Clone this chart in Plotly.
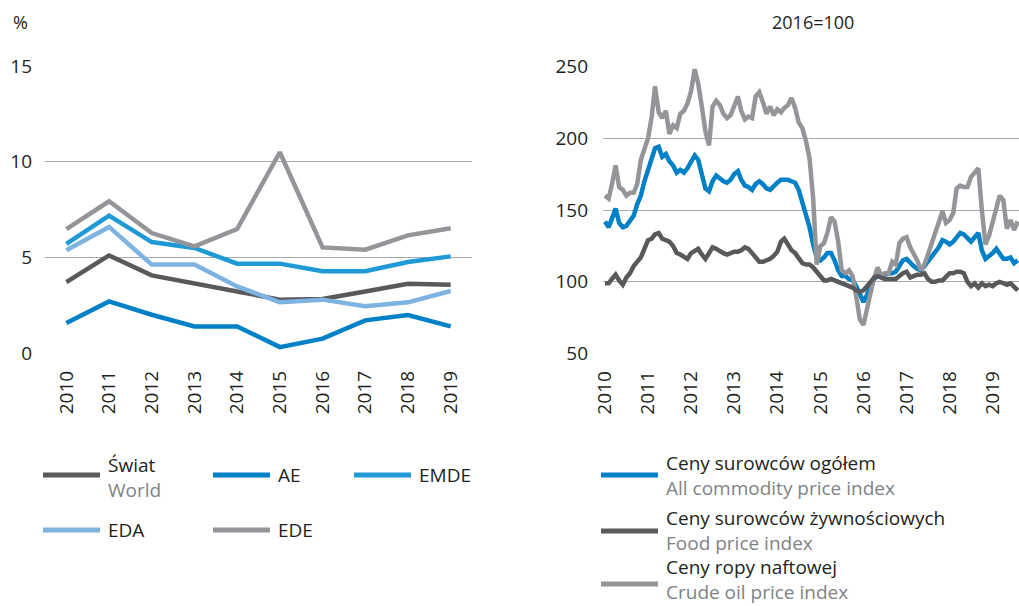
import plotly.graph_objects as go
import pandas as pd

# ---------------- Left chart data (% ) ----------------
years = ['2010', '2011', '2012', '2013', '2014', '2015', '2016', '2017', '2018', '2019']
world = [3.71, 5.10, 4.06, 3.66, 3.22, 2.79, 2.82, 3.22, 3.62, 3.57]
ae = [1.57, 2.70, 2.00, 1.39, 1.39, 0.31, 0.75, 1.71, 1.99, 1.39]
emde = [5.71, 7.18, 5.80, 5.49, 4.67, 4.67, 4.27, 4.27, 4.76, 5.05]
eda = [5.37, 6.59, 4.62, 4.62, 3.48, 2.65, 2.79, 2.44, 2.65, 3.24]
ede = [6.48, 7.93, 6.27, 5.57, 6.48, 10.49, 5.52, 5.40, 6.15, 6.52]

# ---------------- Right chart data (2016=100), monthly from Jan 2010 ----------------
all_commodity = [
    142, 138, 144, 151, 141, 138, 139, 143, 146, 154, 160, 170,
    178, 186, 193, 194, 187, 189, 184, 181, 176, 178, 176, 179,
    184, 188, 185, 176, 165, 163, 170, 174, 172, 170, 169, 171,
    175, 177, 171, 167, 166, 164, 168, 170, 168, 165, 164, 167,
    169, 171, 171, 171, 170, 169, 164, 156, 147, 138, 126, 117,
    115, 117, 120, 120, 115, 108, 104, 104, 102, 101, 97, 92,
    86, 91, 98, 102, 104, 104, 105, 106, 106, 107, 111, 115,
    116, 113, 111, 109, 108, 111, 114, 117, 121, 124, 129, 128,
    126, 128, 131, 134, 133, 130, 128, 131, 134, 122, 116, 118,
    120, 123, 120, 116, 116, 117, 113, 115]
food = [
    99, 99, 102, 105, 101, 98, 103, 106, 111, 114, 117, 123,
    129, 130, 133, 134, 130, 129, 128, 125, 120, 119, 117, 116,
    120, 122, 123, 119, 116, 120, 124, 123, 121, 120, 119, 120,
    121, 121, 122, 124, 123, 120, 117, 114, 114, 115, 116, 118,
    121, 128, 130, 126, 122, 120, 116, 113, 112, 112, 110, 107,
    104, 101, 101, 102, 101, 100, 99, 98, 97, 96, 94, 93,
    94, 97, 100, 103, 104, 103, 102, 102, 102, 102, 104, 106,
    107, 103, 104, 105, 105, 106, 102, 100, 100, 101, 101, 104,
    106, 106, 107, 107, 106, 100, 97, 99, 96, 99, 97, 98,
    97, 99, 100, 99, 98, 99, 97, 94]
crude_oil = [
    160, 158, 168, 181, 166, 164, 160, 162, 162, 168, 185, 192,
    200, 215, 236, 218, 214, 219, 203, 209, 207, 217, 219, 224,
    233, 248, 238, 222, 205, 195, 222, 226, 223, 217, 214, 216,
    223, 229, 219, 213, 215, 214, 229, 232, 225, 217, 222, 216,
    220, 218, 221, 223, 228, 221, 211, 207, 198, 186, 158, 112,
    125, 127, 134, 145, 142, 128, 108, 106, 108, 104, 90, 74,
    70, 80, 92, 103, 110, 104, 106, 106, 114, 112, 127, 130,
    131, 124, 120, 115, 108, 112, 119, 126, 134, 141, 149, 141,
    143, 148, 165, 167, 166, 166, 173, 176, 179, 150, 126, 132,
    141, 150, 160, 157, 137, 143, 136, 142]
year_ticks = ['2010', '2011', '2012', '2013', '2014', '2015', '2016', '2017', '2018', '2019']

months = pd.date_range('2010-01-01', periods=len(crude_oil), freq='MS')

# ---------------- Styles ----------------
C_WORLD = '#58595b'
C_AE = '#0080c6'
C_EMDE = '#1f9ad6'
C_EDA = '#7cb3e1'
C_EDE = '#939598'
C_ALL = '#0080c6'
C_FOOD = '#58595b'
C_OIL = '#939598'
TXT = '#231f20'
TXT2 = '#808285'
GRID = '#a7a9ac'
FONT = 'Open Sans'
FS = 19
LW = 4.5

W, H = 1019, 606


def fx(p):
    return p / W


def fy(p):
    return 1 - p / H


fig = go.Figure()

left_series = [
    ('Świat / World', world, C_WORLD),
    ('AE', ae, C_AE),
    ('EMDE', emde, C_EMDE),
    ('EDA', eda, C_EDA),
    ('EDE', ede, C_EDE),
]
for name, vals, col in left_series:
    fig.add_trace(go.Scatter(x=years, y=vals, name=name, mode='lines',
                             line=dict(color=col, width=LW),
                             xaxis='x', yaxis='y', showlegend=False))

right_series = [
    ('All commodity price index', all_commodity, C_ALL),
    ('Crude oil price index', crude_oil, C_OIL),
    ('Food price index', food, C_FOOD),
]
for name, vals, col in right_series:
    fig.add_trace(go.Scatter(x=months, y=vals, name=name, mode='lines',
                             line=dict(color=col, width=LW),
                             xaxis='x2', yaxis='y2', showlegend=False))

tickfont = dict(family=FONT, size=FS, color=TXT)

fig.update_layout(
    width=W, height=H,
    margin=dict(l=0, r=0, t=0, b=0, autoexpand=False),
    paper_bgcolor='white', plot_bgcolor='white',
    font=dict(family=FONT, size=FS, color=TXT),
    xaxis=dict(domain=[fx(45), fx(472)], type='category', range=[-0.5, 9.5],
               showgrid=False, zeroline=False, showline=False, automargin=False,
               tickangle=-90, tickfont=tickfont, ticks='', ticklabelstandoff=12,
               anchor='y'),
    yaxis=dict(domain=[fy(354), fy(65)], range=[-0.05, 15.05],
               tickvals=[0, 5, 10, 15], showgrid=True, gridcolor=GRID, gridwidth=1.2,
               zeroline=False, showline=False, ticks='', tickfont=tickfont,
               automargin=False, ticklabelstandoff=12, anchor='x'),
    xaxis2=dict(domain=[fx(603), 1.0], type='date',
                range=['2009-12-15', '2019-08-12'],
                tickvals=[pd.Timestamp(y + '-01-01') for y in year_ticks],
                ticktext=year_ticks, automargin=False,
                showgrid=False, zeroline=False, showline=False,
                tickangle=-90, tickfont=tickfont, ticks='', ticklabelstandoff=12,
                anchor='y2'),
    yaxis2=dict(domain=[fy(354.4), fy(65.6)], range=[49.5, 250.5],
                tickvals=[50, 100, 150, 200, 250], showgrid=True, gridcolor=GRID,
                gridwidth=1.2, zeroline=False, showline=False, ticks='',
                automargin=False, tickfont=tickfont, ticklabelstandoff=14,
                anchor='x2'),
)

annotations = [
    dict(text='%', x=fx(20), y=fy(22)),
    dict(text='2016=100', x=fx(813), y=fy(22)),
]
for a in annotations:
    a.update(xref='paper', yref='paper', showarrow=False,
             xanchor='center', yanchor='middle',
             font=dict(family=FONT, size=FS - 1, color=TXT))
fig.update_layout(annotations=annotations)

# ---------------- Legends (drawn manually) ----------------
shapes = []


def legend_item(x0, yline, col, main, sub=None, ytext=None):
    shapes.append(dict(type='line', xref='paper', yref='paper',
                       x0=fx(x0), x1=fx(x0 + 57), y0=fy(yline), y1=fy(yline),
                       line=dict(color=col, width=5)))
    text = main if not sub else f'{main}<br><span style="color:{TXT2}">{sub}</span>'
    fig.add_annotation(text=text, xref='paper', yref='paper', showarrow=False,
                       x=fx(x0 + 64), y=fy(ytext if ytext is not None else yline),
                       xanchor='left', yanchor='middle', align='left',
                       borderpad=0,
                       font=dict(family=FONT, size=FS, color=TXT))


legend_item(43, 475, C_WORLD, 'Świat', 'World', ytext=477)
legend_item(213, 475, C_AE, 'AE')
legend_item(354, 475, C_EMDE, 'EMDE')
legend_item(43, 530, C_EDA, 'EDA')
legend_item(213, 530, C_EDE, 'EDE')

legend_item(601, 475, C_ALL, 'Ceny surowców ogółem', 'All commodity price index',
            ytext=475)
legend_item(601, 531, C_FOOD, 'Ceny surowców żywnościowych', 'Food price index',
            ytext=530)
legend_item(601, 584, C_OIL, 'Ceny ropy naftowej', 'Crude oil price index',
            ytext=579)

fig.update_layout(shapes=shapes)

fig.write_html('out.html',
               config={'displayModeBar': False},
               post_script="document.body.style.margin='0';"
                           "document.body.style.overflow='hidden';")
